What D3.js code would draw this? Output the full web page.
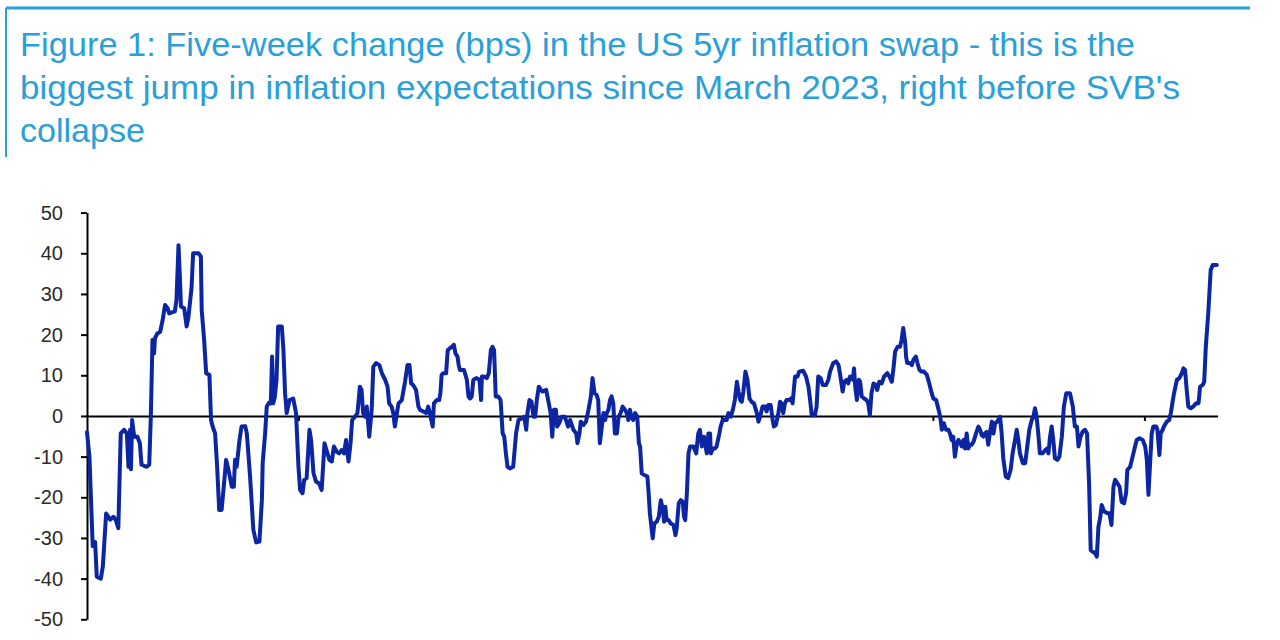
<!DOCTYPE html>
<html>
<head>
<meta charset="utf-8">
<script src="https://cdn.jsdelivr.net/npm/d3@7"></script>
<style>
  html, body { margin: 0; padding: 0; background: #fff; }
  svg { display: block; }
</style>
</head>
<body>
<svg id="chart" width="1280" height="640"></svg>
<script>
// ---- data ----
const titleLines = [
  "Figure 1: Five-week change (bps) in the US 5yr inflation swap - this is the",
  "biggest jump in inflation expectations since March 2023, right before SVB's",
  "collapse"
];
const titleWidths = [1115, 1160, 125];
const yTicks = [50, 40, 30, 20, 10, 0, -10, -20, -30, -40, -50];
const xTickWeeks = [52, 104, 156, 208, 260];

// week index from start of the series
const weeks = [
  0, 0.6, 1.4, 2.0, 2.4, 3.4, 3.9, 4.7, 5.7, 6.5, 7.1, 7.7, 8.3, 9.1, 9.8, 10.2, 10.6, 10.8, 11.1, 11.6,
  12.4, 13.0, 13.4, 14.7, 15.3, 15.7, 16.1, 16.5, 16.7, 17.3, 18.0, 18.6, 19.2, 19.8, 20.2, 21.6, 22.0, 22.5, 22.9, 23.1,
  23.9, 24.5, 24.9, 25.7, 26.1, 27.4, 28.0, 28.2, 28.8, 29.3, 30.1, 30.5, 30.9, 31.5, 32.0, 32.5, 33.1, 33.7, 34.2, 34.8,
  35.6, 36.1, 36.4, 36.8, 37.5, 38.0, 38.9, 39.3, 40.1, 40.9, 41.6, 42.4, 43.0, 43.2, 43.8, 44.2, 44.8, 45.2, 45.5, 45.8,
  46.2, 46.6, 47.0, 47.9, 48.3, 48.7, 49.1, 49.8, 50.7, 51.4, 52.0, 52.4, 53.0, 53.4, 54.0, 54.7, 55.1, 55.7, 56.3, 57.1,
  57.7, 58.4, 59.6, 60.2, 60.7, 61.4, 62.0, 62.6, 63.2, 63.7, 64.3, 64.8, 65.2, 65.9, 66.5, 67.1, 67.5, 67.9, 68.4, 68.8,
  69.4, 70.0, 70.4, 71.1, 71.9, 72.5, 73.3, 73.9, 74.3, 74.9, 75.3, 75.7, 76.2, 76.6, 77.4, 78.2, 78.8, 79.3, 79.7, 80.2,
  80.9, 81.5, 81.9, 82.7, 83.4, 83.9, 84.3, 85.0, 85.3, 86.0, 86.6, 86.9, 87.2, 87.6, 88.3, 88.7, 89.7, 90.2, 90.6, 91.1,
  91.4, 91.7, 92.7, 93.4, 93.8, 94.2, 94.6, 95.0, 95.8, 96.5, 96.9, 97.1, 97.6, 98.3, 98.8, 99.3, 99.7, 100.1, 100.5, 101.1,
  101.7, 102.2, 102.6, 103.0, 103.4, 104.0, 104.8, 105.5, 106.1, 106.9, 107.5, 108.0, 108.3, 108.8, 109.3, 109.8, 110.2, 110.6, 111.1, 111.6,
  112.0, 112.9, 113.4, 114.0, 114.4, 114.8, 115.3, 115.6, 116.1, 116.7, 117.5, 118.3, 118.8, 119.6, 120.3, 120.6, 121.1, 121.4, 122.1, 122.7,
  123.3, 123.9, 124.3, 124.8, 125.3, 125.7, 126.1, 126.6, 127.0, 127.4, 127.8, 128.2, 128.6, 129.0, 129.4, 129.8, 130.3, 130.7, 131.2, 131.7,
  132.3, 132.7, 133.1, 133.5, 133.9, 134.3, 134.8, 135.3, 135.7, 136.0, 136.4, 137.0, 137.8, 138.1, 138.4, 139.1, 139.5, 140.1, 140.6, 141.1,
  141.6, 141.9, 142.2, 142.5, 143.0, 143.5, 144.2, 144.7, 145.0, 145.5, 146.0, 146.5, 146.8, 147.1, 147.5, 147.9, 148.3, 149.1, 149.8, 150.3,
  150.7, 151.2, 151.7, 152.4, 152.8, 153.2, 153.4, 153.9, 154.4, 154.8, 155.5, 155.8, 156.3, 156.9, 157.3, 157.7, 158.3, 158.8, 159.3, 159.8,
  160.2, 160.6, 161.0, 161.4, 161.9, 162.4, 162.9, 163.4, 164.0, 164.7, 165.1, 165.5, 166.1, 166.7, 167.1, 167.5, 168.1, 168.6, 168.9, 169.4,
  170.0, 170.4, 170.8, 171.2, 171.6, 172.0, 172.7, 173.1, 173.5, 174.1, 174.7, 175.1, 176.1, 176.8, 177.4, 177.8, 178.2, 179.0, 179.4, 179.8,
  180.4, 180.9, 181.7, 182.3, 182.7, 183.5, 184.2, 184.8, 185.2, 185.8, 186.2, 186.8, 187.2, 187.6, 188.3, 188.6, 188.9, 189.3, 189.8, 190.1,
  190.5, 191.1, 191.7, 192.1, 192.5, 192.9, 193.4, 194.0, 194.3, 194.8, 195.4, 196.0, 196.8, 197.3, 197.9, 198.3, 198.7, 199.3, 199.9, 200.3,
  200.7, 201.2, 201.4, 201.7, 202.4, 202.8, 203.2, 203.8, 204.2, 204.7, 205.2, 205.8, 206.5, 207.1, 207.7, 208.1, 208.8, 209.1, 209.6, 209.9,
  210.2, 210.7, 211.2, 211.8, 212.2, 212.6, 213.0, 213.4, 213.9, 214.3, 214.7, 215.1, 215.5, 215.9, 216.3, 216.7, 217.1, 217.5, 218.0, 218.6,
  219.2, 219.6, 220.0, 220.4, 220.8, 221.2, 221.6, 222.0, 222.5, 222.9, 223.3, 223.8, 224.5, 224.9, 225.3, 225.9, 226.5, 227.1, 227.6, 228.2,
  228.6, 229.0, 229.4, 230.1, 230.7, 231.2, 231.7, 232.3, 232.7, 233.1, 233.5, 233.9, 234.3, 235.0, 235.6, 236.1, 236.4, 236.8, 237.2, 237.6,
  238.0, 238.6, 239.1, 239.7, 240.2, 240.8, 241.7, 242.4, 242.9, 243.4, 243.8, 244.3, 244.8, 245.4, 245.9, 246.1, 246.4, 246.8, 247.3, 247.9,
  248.3, 248.7, 249.1, 249.5, 250.1, 250.9, 251.4, 251.9, 252.4, 252.8, 253.4, 253.9, 254.4, 255.0, 255.5, 255.8, 256.5, 257.1, 257.7, 258.1,
  258.8, 259.6, 260.2, 260.6, 261.0, 261.4, 261.8, 262.2, 262.9, 263.2, 263.7, 264.0, 264.5, 264.8, 265.5, 266.1, 266.5, 267.0, 267.3, 268.0,
  268.6, 269.2, 269.6, 270.0, 270.4, 270.8, 271.4, 272.0, 272.7, 273.3, 273.7, 274.3, 274.7, 275.1, 275.7, 276.3, 276.8, 277.8
];

// five-week change, bps
const bps = [
  -4, -10, -32, -31, -39.5, -40, -37, -24, -25.5, -24.8, -25.6, -27.6, -4.3, -3.4, -4.3, -12.5, -3.4, -13.1, -1, -5.1,
  -5.1, -6.7, -12, -12.5, -12, 0, 18.7, 15.4, 19.1, 20.3, 20.7, 23.6, 27.3, 26.5, 25.2, 25.7, 28.5, 42, 32.6, 26.9,
  26.5, 22, 24, 31.4, 40, 40, 39.2, 26.1, 18.7, 10.5, 10.1, -1, -2.6, -4.3, -12.5, -23.1, -23.1, -16.6, -10.8, -13.3,
  -17.4, -17.4, -10.8, -12.5, -5.9, -2.6, -2.5, -4.3, -14.9, -28, -31.1, -30.9, -20.7, -11.6, -4.3, 2.3, 3.3, 3.1, 14.6, 3.1,
  4.8, 8.9, 22, 22, 16.2, 5.6, 0.7, 3.9, 4.3, 0.7, -12.5, -18.2, -19, -15.7, -15.3, -3.4, -5.9, -14.1, -16.1, -16.6,
  -18.2, -6.7, -10.8, -11.2, -7.5, -8.8, -9.2, -8.4, -9.2, -5.9, -11.2, -6.7, -1, -0.2, 0.7, 7.2, 6.4, 0.7, -0.2, 2.3,
  -5.1, 1.5, 12.1, 13, 12.5, 10.5, 8.9, 7.2, 3.1, 2.3, 0.7, -2.6, 0.7, 3.1, 3.9, 8.4, 12.5, 12.5, 8, 7.6,
  6.4, 2.3, 1.5, 1.1, 0.7, 2.3, 0.7, -2.6, 3.1, 3.9, 3.9, 5.6, 10.1, 10.5, 10.5, 16.2, 17, 17.5, 15.4, 14.6,
  12.5, 11.3, 11.3, 8.9, 4.8, 4.3, 4.8, 8.9, 9.3, 8.9, 3.9, 9.7, 9.7, 9.3, 10.5, 16.2, 17, 16.2, 4.8, 4.8,
  3.9, -4.3, -5.1, -9.2, -12.5, -12.9, -12.5, -4.3, -1, -0.6, -0.2, -3.4, 0.7, 3.9, 3.5, -0.2, -0.2, 3.9, 7.2, 6.4,
  6, 6.4, 3.9, 0.7, -5.1, 1.5, 1.5, -2.6, -1.8, -0.2, -0.2, -2.6, -1, -3.4, -4.3, -6.7, -4.3, -1.4, -2.2, -1.4,
  1.5, 4.8, 9.3, 5.6, 5.2, 3.9, -6.7, -2.6, 0.7, -1, 0.7, 1.5, 3.9, 4.8, 3.1, -4.3, -4.3, -0.2, 0.7, 2.3,
  1.5, 0.7, -1, 1.5, -0.2, -1, 0.7, -0.2, -6.7, -7.5, -14.1, -14.5, -14.9, -19, -23.9, -30.1, -26.4, -26, -24.8, -20.7,
  -23.1, -26, -22.3, -25.6, -25.6, -26.4, -26.8, -29.3, -27.6, -21.5, -20.7, -21.1, -24.8, -25.6, -19, -9.2, -7.5, -7.5, -9.2, -4.3,
  -3.4, -7.5, -5.1, -9.2, -4.3, -4.3, -9.2, -8, -8, -7.5, -4.3, -2.6, -1, -1, -1, 0.7, -0.2, 1.5, 3.9, 8.4,
  6, 3.9, 3.5, 6, 10.9, 8.9, 4.3, 3.5, 3.1, 0.7, -1.4, -0.2, 2.3, 2.3, 1.1, 2.7, 2.7, -1, -2.6, -2.2,
  0.7, 3.5, 3.1, 0.7, 3.1, 3.9, 3.9, 4.3, 3.1, 9.7, 9.7, 10.9, 11.1, 9.7, 7.2, 3.9, 0.2, 0.2, 2.3, 9.7,
  9.3, 7.6, 7.6, 8.9, 10.9, 13, 13.4, 12.5, 10.1, 6, 8.4, 8.9, 8, 9.7, 8.9, 11.7, 7.2, 3.9, 8.9, 8.4,
  4.8, 4.3, 3.9, 3.1, 0.2, 5.6, 8, 7.6, 6.4, 8.4, 8, 9.7, 10.5, 9.7, 8.4, 11.7, 15.8, 17, 17, 18.7,
  21.6, 17.9, 14.6, 13, 13, 12.5, 13.8, 14.6, 13, 11.3, 10.9, 10.9, 10.1, 8, 5.6, 4.3, 3.9, 2.7, 0.7, -1,
  -3.4, -1.8, -3.4, -3.4, -4.3, -5.9, -5.1, -10, -6.7, -5.9, -6.7, -7.5, -5.9, -8, -4.3, -8, -7.1, -7.1, -6.3, -4.3,
  -2.6, -3.4, -4.7, -5.1, -4.3, -3.9, -7.1, -4.3, -1.4, -4.3, -1.8, -1.4, -0.2, -4.3, -10.4, -14.9, -15.3, -13.3, -9.2, -5.9,
  -3.4, -5.9, -9.2, -11.6, -11.6, -7.5, -3.4, -1, -0.2, 1.9, -0.2, -4.3, -9.2, -9.2, -8.4, -8, -9.2, -5.1, -2.6, -5.9,
  -10.4, -10.8, -10, -5.1, 2.3, 5.6, 5.6, 2.3, -2.6, -2.6, -7.5, -5.1, -3.9, -3.4, -4.3, -9.2, -16.6, -33, -33.4, -33.8,
  -34.6, -27.2, -25.2, -21.9, -23.5, -23.9, -23.9, -26.8, -17.4, -15.7, -16.6, -17.4, -21.1, -21.5, -19, -13.3, -12.5, -10, -7.5, -5.9,
  -5.5, -5.9, -7.5, -10.8, -19.4, -11.6, -4.3, -2.6, -2.6, -3.4, -9.6, -4.3, -3.4, -2.6, -1.4, -1, 0.7, 3.9, 5.6, 8.9,
  9.3, 10.5, 11.7, 11.3, 6.4, 2.3, 1.9, 2.3, 3.1, 3.1, 7.2, 7.6, 8.4, 17, 25.2, 35.9, 37.1, 37.1
];

// ---- drawing ----
const svg = d3.select("#chart");
const titleColor = "#2a9fd8";
const lineColor = "#0b25a3";

// frame lines
svg.append("line").attr("x1", 6).attr("x2", 1250).attr("y1", 8).attr("y2", 8)
  .attr("stroke", titleColor).attr("stroke-width", 3);
svg.append("line").attr("x1", 6).attr("x2", 6).attr("y1", 8).attr("y2", 157)
  .attr("stroke", titleColor).attr("stroke-width", 2);

// title
const titleG = svg.append("g");
titleLines.forEach((t, i) => {
  titleG.append("text")
    .attr("x", 20).attr("y", 56 + i * 43)
    .attr("fill", titleColor)
    .attr("font-family", "'Liberation Sans', Arial, sans-serif")
    .attr("font-size", 33)
    .attr("textLength", titleWidths[i])
    .attr("lengthAdjust", "spacingAndGlyphs")
    .text(t);
});

const margin = { left: 87, right: 1217.6, top: 212.6, bottom: 619.3 };
const x = d3.scaleLinear().domain([0, 278]).range([margin.left, margin.right]);
const y = d3.scaleLinear().domain([-50, 50]).range([margin.bottom, margin.top]);

// y axis
const yAxis = svg.append("g")
  .attr("transform", `translate(${margin.left},0)`)
  .call(d3.axisLeft(y).tickValues(yTicks).tickSize(6).tickSizeOuter(0).tickPadding(18).tickFormat(d => String(d)));
yAxis.select(".domain").attr("stroke", "#000").attr("stroke-width", 2);
yAxis.selectAll(".tick line").attr("stroke", "#000").attr("stroke-width", 2);
yAxis.selectAll(".tick text")
  .attr("fill", "#2a2a2a")
  .attr("font-family", "'Liberation Sans', Arial, sans-serif")
  .attr("font-size", 20);

// zero line (x axis, no labels)
const xAxis = svg.append("g")
  .attr("transform", `translate(0,${y(0)})`)
  .call(d3.axisBottom(x).tickValues(xTickWeeks).tickSize(5).tickSizeOuter(0).tickFormat(""));
xAxis.select(".domain").attr("stroke", "#000").attr("stroke-width", 2);
xAxis.selectAll(".tick line").attr("stroke", "#000").attr("stroke-width", 2);

// series line
const data = weeks.map((w, i) => ({ w, v: bps[i] }));
svg.append("path")
  .datum(data)
  .attr("fill", "none")
  .attr("stroke", lineColor)
  .attr("stroke-width", 4)
  .attr("stroke-linejoin", "round")
  .attr("stroke-linecap", "round")
  .attr("d", d3.line().x(d => x(d.w)).y(d => y(d.v)));
</script>
</body>
</html>
